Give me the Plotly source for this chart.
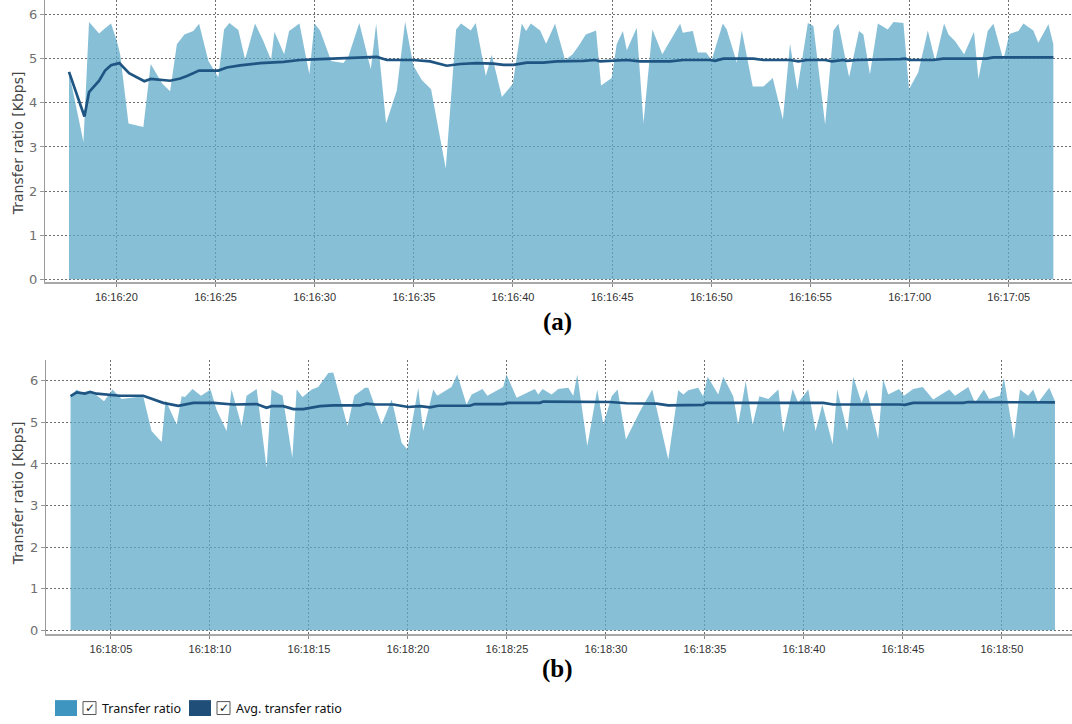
import pandas as pd
import plotly.graph_objects as go

# ---------------- data ----------------
BASE_A = "2024-01-01 16:16:20"
BASE_B = "2024-01-01 16:18:05"

# (a) transfer ratio samples: seconds after 16:16:20, Kbps
t_rate_a = [-2.39, -1.66, -1.38, -0.87, -0.60, -0.27, 0.02, 0.19, 0.61, 1.36, 1.73, 2.32, 2.71, 3.05, 3.43,
            3.88, 4.17, 4.64, 5.14, 5.43, 5.70, 6.15, 6.49, 6.99, 7.41, 7.80, 7.97, 8.46, 8.71, 9.23, 9.73,
            9.99, 10.27, 10.83, 11.45, 11.70, 12.25, 12.83, 13.10, 13.60, 14.14, 14.56, 14.98, 15.40, 15.87,
            16.61, 17.13, 17.38, 17.87, 18.12, 18.63, 18.93, 19.44, 19.99, 20.44, 20.66, 20.90, 21.37, 21.67,
            22.12, 22.63, 23.01, 23.38, 23.67, 24.19, 24.44, 24.98, 25.23, 25.54, 25.74, 26.24, 26.58, 27.03,
            27.53, 28.43, 28.56, 29.07, 29.32, 29.74, 30.02, 30.58, 30.78, 31.29, 31.54, 32.09, 32.63, 33.10,
            33.61, 33.97, 34.34, 34.87, 35.15, 35.74, 36.16, 36.41, 36.95, 37.45, 37.67, 38.00, 38.40, 38.90,
            39.19, 39.69, 39.97, 40.44, 40.92, 41.29, 41.74, 41.96, 42.29, 42.75, 43.25, 43.47, 43.94, 44.23,
            44.73, 45.03, 45.49, 45.74, 46.24, 46.49, 47.00, 47.25]
v_rate_a = [4.69, 3.11, 5.83, 5.57, 5.68, 5.80, 5.40, 5.10, 3.53, 3.45, 4.88, 4.43, 4.26, 5.33, 5.55,
            5.63, 5.79, 4.95, 4.58, 5.66, 5.81, 5.65, 4.99, 5.80, 5.40, 4.97, 5.61, 5.10, 5.63, 5.80, 4.65,
            5.80, 5.64, 4.95, 4.90, 5.05, 5.81, 4.76, 5.79, 3.53, 4.28, 5.84, 4.84, 4.52, 4.31,
            2.51, 5.66, 5.80, 5.64, 5.81, 4.61, 5.09, 4.13, 4.43, 5.80, 5.63, 5.80, 5.64, 5.34,
            5.79, 4.97, 5.10, 5.34, 5.55, 5.64, 4.39, 4.56, 5.33, 5.63, 5.19, 5.70, 3.54, 5.66,
            5.10, 5.79, 5.59, 5.63, 5.14, 5.14, 4.97, 5.80, 5.66, 4.91, 5.64, 4.37, 4.37, 4.56,
            3.62, 5.34, 4.29, 5.81, 5.74, 3.51, 5.64, 5.79, 4.58, 5.63, 5.55, 4.65, 5.80, 5.66,
            5.83, 5.81, 4.31, 4.69, 5.64, 4.95, 5.80, 5.55, 5.40, 5.10, 5.61, 4.54, 5.63, 5.79,
            4.97, 5.56, 5.63, 5.80, 5.64, 5.36, 5.78, 5.33]

# (a) average transfer ratio
t_avg_a = [-2.39, -1.61, -1.38, -0.87, -0.57, -0.27, 0.15, 0.64, 1.41, 1.73, 2.71, 3.22, 3.56, 4.17, 5.14,
           5.57, 6.24, 7.25, 8.43, 9.26, 10.27, 12.30, 13.13, 13.64, 14.98, 15.82, 16.66, 17.33, 18.17,
           19.01, 19.52, 20.02, 20.70, 21.53, 22.21, 23.55, 24.14, 24.39, 25.06, 25.74, 26.41, 27.92,
           28.59, 29.94, 30.19, 30.61, 32.12, 32.63, 33.97, 34.39, 34.82, 35.74, 36.08, 36.66, 36.83,
           37.34, 39.52, 39.77, 40.02, 41.20, 41.70, 43.88, 44.22, 47.25]
v_avg_a = [4.70, 3.69, 4.24, 4.50, 4.73, 4.85, 4.90, 4.67, 4.49, 4.54, 4.50, 4.55, 4.61, 4.73, 4.73,
           4.80, 4.85, 4.90, 4.93, 4.97, 4.99, 5.03, 5.04, 4.97, 4.97, 4.94, 4.84, 4.88, 4.90,
           4.89, 4.86, 4.86, 4.91, 4.91, 4.94, 4.95, 4.97, 4.94, 4.95, 4.97, 4.94, 4.94,
           4.97, 4.97, 4.95, 5.00, 5.00, 4.97, 4.97, 4.94, 4.97, 4.97, 4.94, 4.97, 4.95,
           4.97, 4.99, 5.00, 4.97, 4.97, 5.00, 5.00, 5.03, 5.03]

# (b) transfer ratio samples: seconds after 16:18:05, Kbps
t_rate_b = [-2.04, -1.73, -1.48, -1.20, -0.98, -0.35, 0.08, 0.54, 1.63, 2.05, 2.56, 2.76, 3.32, 3.57, 3.74,
            4.12, 4.55, 5.03, 5.33, 5.84, 6.09, 6.60, 6.85, 7.36, 7.86, 8.11, 8.67, 9.16, 9.38, 9.68,
            10.14, 10.47, 10.98, 11.23, 11.95, 12.29, 12.83, 13.00, 13.67, 14.18, 14.68, 14.97, 15.52,
            15.77, 16.28, 16.48, 17.20, 17.49, 17.96, 18.22, 18.77, 19.01, 19.81, 19.98, 20.49, 21.41,
            21.58, 21.80, 22.26, 22.59, 23.10, 23.35, 23.55, 24.06, 24.56, 24.87, 25.29, 25.59, 26.01,
            26.72, 27.34, 28.15, 28.65, 28.91, 29.16, 29.66, 29.91, 30.14, 30.67, 30.93, 31.43, 31.68,
            32.06, 32.41, 32.75, 33.20, 33.71, 33.96, 34.43, 34.71, 35.22, 35.59, 35.93, 36.45, 36.68,
            37.19, 37.49, 37.91, 38.17, 38.75, 39.00, 39.26, 39.81, 40.05, 40.52, 41.00, 41.53, 42.34,
            42.63, 43.30, 43.64, 44.09, 44.36, 44.90, 45.10, 45.61, 45.91, 46.33, 46.58, 46.83, 47.39,
            47.68]
v_rate_b = [5.63, 5.79, 5.72, 5.75, 5.75, 5.51, 5.79, 5.56, 5.63, 4.79, 4.53, 5.53, 4.95, 5.63, 5.61,
            5.80, 5.64, 5.79, 5.31, 4.79, 5.79, 4.91, 5.64, 5.80, 3.91, 5.79, 5.64, 4.15, 5.79, 5.61,
            5.79, 5.85, 6.19, 6.20, 4.91, 5.64, 5.83, 5.83, 4.95, 5.55, 4.51, 4.35, 5.83,
            4.79, 5.79, 5.64, 5.85, 6.15, 5.43, 5.67, 5.80, 5.64, 5.85, 6.15, 5.59, 5.80,
            5.67, 5.80, 5.67, 5.80, 5.83, 5.64, 6.15, 4.43, 5.79, 4.95, 5.63, 5.79, 4.59,
            5.27, 5.79, 4.11, 5.77, 5.67, 5.77, 5.83, 5.63, 6.10, 5.67, 6.10, 5.63, 4.95,
            5.99, 4.95, 5.63, 5.56, 5.79, 4.76, 5.80, 5.47, 5.79, 4.79, 5.43, 4.47, 5.79,
            4.79, 6.10, 5.47, 5.79, 4.60, 6.04, 5.67, 5.80, 5.64, 5.80, 5.85, 5.55, 5.79,
            5.64, 5.85, 5.47, 5.79, 5.56, 5.64, 6.07, 4.60, 5.79, 5.64, 5.79, 5.48, 5.83,
            5.51]

# (b) average transfer ratio
t_avg_b = [-2.04, -1.73, -1.31, -1.06, -0.72, 0.00, 0.45, 1.63, 2.64, 3.40, 4.16, 5.17, 6.18, 7.36, 7.86,
           8.11, 8.70, 9.21, 9.71, 10.56, 11.23, 12.58, 12.91, 13.33, 14.26, 15.02, 15.61, 16.11, 16.53,
           18.13, 18.38, 19.81, 20.07, 21.67, 21.83, 25.20, 26.04, 27.56, 28.15, 29.91, 30.08, 35.98,
           36.48, 39.85, 40.10, 40.52, 43.05, 43.30, 47.68]
v_avg_b = [5.63, 5.72, 5.69, 5.73, 5.69, 5.67, 5.64, 5.64, 5.47, 5.40, 5.47, 5.47, 5.43, 5.44, 5.35,
           5.39, 5.39, 5.32, 5.32, 5.39, 5.41, 5.41, 5.45, 5.43, 5.43, 5.37, 5.39, 5.36, 5.40,
           5.40, 5.44, 5.44, 5.47, 5.47, 5.50, 5.49, 5.46, 5.45, 5.41, 5.42, 5.47, 5.47,
           5.43, 5.43, 5.42, 5.47, 5.47, 5.49, 5.48]

y_ticks = [0, 1, 2, 3, 4, 5, 6]
legend_labels = ["Transfer ratio", "Avg. transfer ratio"]
captions = ["(a)", "(b)"]
y_title = "Transfer ratio [Kbps]"

# ---------------- styling ----------------
W, H = 1072, 724
FILL = "rgba(95,170,202,0.75)"
LINE = "#1f5582"
LEG_FILL = "#3d95c0"
LEG_LINE = "#1f4e79"
GRID = "#6e6e6e"


def to_time(base, secs):
    return pd.Timestamp(base) + pd.to_timedelta(pd.Series(secs), unit="s")


def px_x(p):
    return p / W


def px_y(p):
    return 1 - p / H


fig = go.Figure()
fig.add_trace(go.Scatter(x=to_time(BASE_A, t_rate_a), y=v_rate_a, mode="lines", fill="tozeroy",
                         line=dict(width=0, color=FILL), fillcolor=FILL, xaxis="x", yaxis="y",
                         name=legend_labels[0]))
fig.add_trace(go.Scatter(x=to_time(BASE_A, t_avg_a), y=v_avg_a, mode="lines",
                         line=dict(width=2.7, color=LINE), xaxis="x", yaxis="y", name=legend_labels[1]))
fig.add_trace(go.Scatter(x=to_time(BASE_B, t_rate_b), y=v_rate_b, mode="lines", fill="tozeroy",
                         line=dict(width=0, color=FILL), fillcolor=FILL, xaxis="x2", yaxis="y2",
                         name=legend_labels[0]))
fig.add_trace(go.Scatter(x=to_time(BASE_B, t_avg_b), y=v_avg_b, mode="lines",
                         line=dict(width=2.7, color=LINE), xaxis="x2", yaxis="y2", name=legend_labels[1]))

xcommon = dict(type="date", dtick=5000, tickformat="%H:%M:%S", showgrid=True, gridcolor=GRID,
               griddash="2px,2px", gridwidth=1, showline=True, linecolor="#a8a8a8", linewidth=2,
               ticks="outside", ticklen=3, tickcolor="#888888", zeroline=False,
               tickfont=dict(family="Liberation Sans, Arial", size=11, color="#333333"))
ycommon = dict(tickvals=y_ticks, showgrid=True, gridcolor=GRID, griddash="2px,2px", gridwidth=1,
               showline=True, linecolor="#9a9a9a", linewidth=1, ticks="outside", ticklen=4,
               tickcolor="#999999", zeroline=False,
               tickfont=dict(family="DejaVu Sans", size=13, color="#707070"))

base_a = pd.Timestamp(BASE_A)
base_b = pd.Timestamp(BASE_B)
fig.update_layout(
    width=W, height=H, margin=dict(l=0, r=0, t=0, b=0),
    paper_bgcolor="white", plot_bgcolor="white", showlegend=False,
    xaxis=dict(xcommon, domain=[px_x(45), 1], anchor="y",
               range=[base_a + pd.Timedelta(seconds=-3.60), base_a + pd.Timedelta(seconds=48.19)]),
    yaxis=dict(ycommon, domain=[px_y(284), 1], anchor="x", range=[-0.07, 6.33]),
    xaxis2=dict(xcommon, domain=[px_x(46), 1], anchor="y2",
                range=[base_b + pd.Timedelta(seconds=-3.28), base_b + pd.Timedelta(seconds=48.54)]),
    yaxis2=dict(ycommon, domain=[px_y(638), px_y(362)], anchor="x2", range=[-0.1, 6.5]),
)

ann = []
# y-axis titles
for cy in (144, 496):
    ann.append(dict(text=y_title, x=px_x(18), y=px_y(cy), xref="paper", yref="paper", textangle=-90,
                    showarrow=False, xanchor="center", yanchor="middle",
                    font=dict(family="DejaVu Sans", size=14, color="#444444")))
# captions
for cap, cy in zip(captions, (324, 673)):
    ann.append(dict(text="<b>%s</b>" % cap, x=px_x(557), y=px_y(cy), xref="paper", yref="paper",
                    showarrow=False, xanchor="center", yanchor="middle",
                    font=dict(family="Liberation Serif, Times New Roman", size=25, color="black")))

# custom legend
shapes = []
leg_items = [(legend_labels[0], LEG_FILL, 55), (legend_labels[1], LEG_LINE, 189)]
for label, col, x0 in leg_items:
    shapes.append(dict(type="rect", xref="paper", yref="paper", x0=px_x(x0), x1=px_x(x0 + 22),
                       y0=px_y(720), y1=px_y(704), fillcolor=col, line=dict(width=0)))
    shapes.append(dict(type="rect", xref="paper", yref="paper", x0=px_x(x0 + 28), x1=px_x(x0 + 41),
                       y0=px_y(718.5), y1=px_y(705.5), fillcolor="white",
                       line=dict(width=1, color="#555555")))
    ann.append(dict(text="✓", x=px_x(x0 + 34.5), y=px_y(712), xref="paper", yref="paper",
                    showarrow=False, xanchor="center", yanchor="middle",
                    font=dict(family="DejaVu Sans", size=12, color="#222222")))
    ann.append(dict(text=label, x=px_x(x0 + 45), y=px_y(712), xref="paper", yref="paper",
                    showarrow=False, xanchor="left", yanchor="middle",
                    font=dict(family="Noto Sans", size=12.5, color="#111111")))

fig.update_layout(annotations=ann, shapes=shapes)
fig.write_html("out.html", config={"displayModeBar": False},
               post_script="document.body.style.margin='0';document.body.style.overflow='hidden';")
